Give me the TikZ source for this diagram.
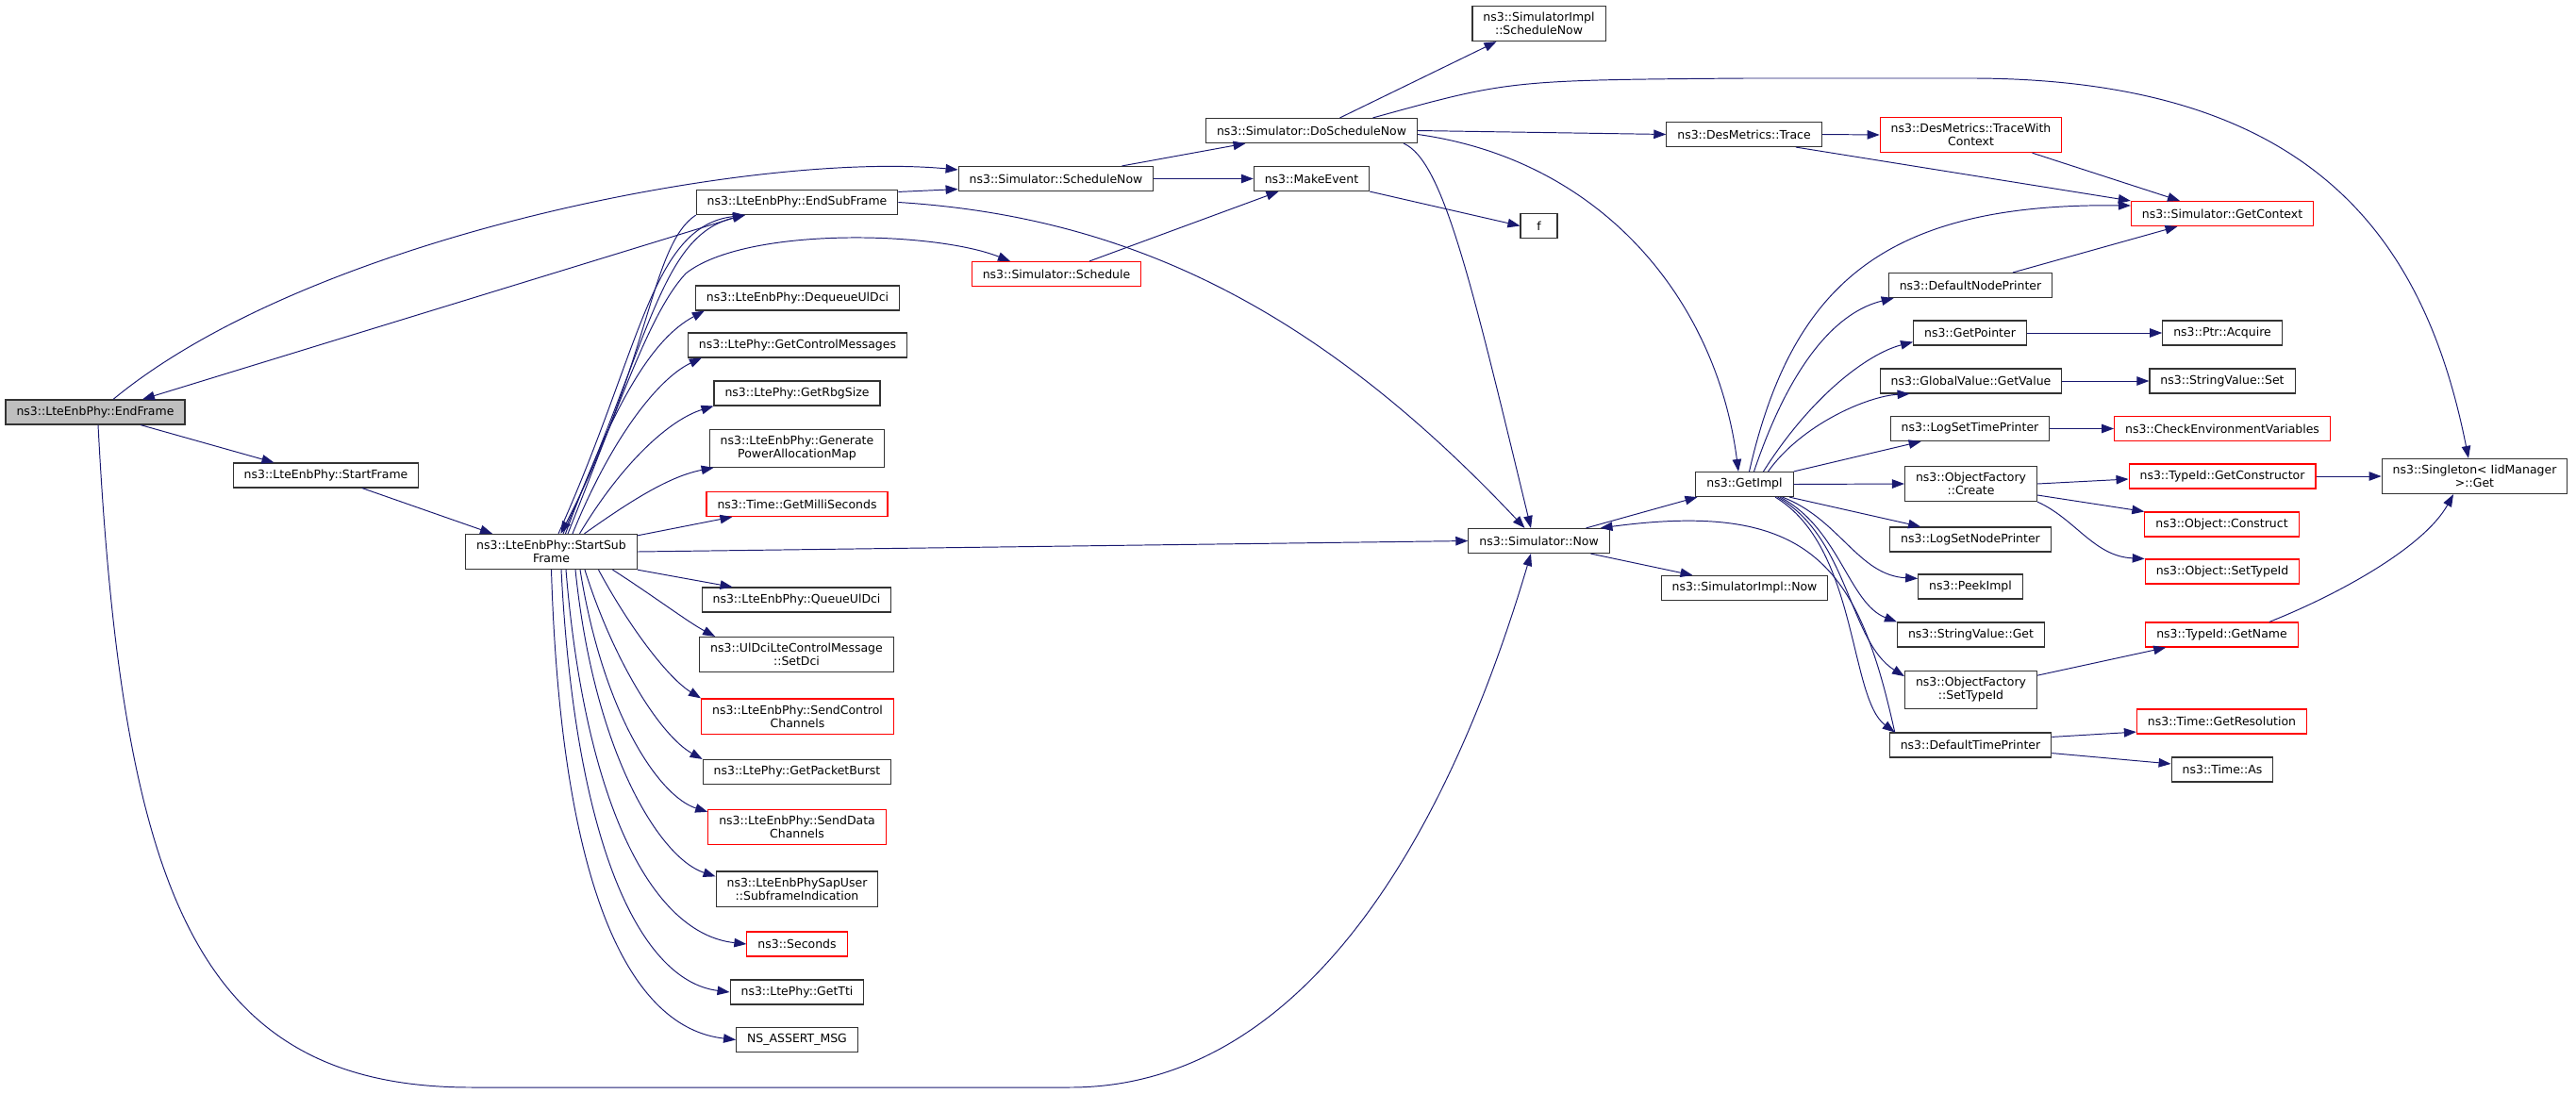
\documentclass[tikz,border=0pt]{standalone}
\usepackage{fontspec}
\setmainfont{DejaVu Sans}
\usepackage{tikz}
\usetikzlibrary{arrows.meta,positioning,calc}
\definecolor{callblue}{HTML}{191970}
\definecolor{boxgray}{HTML}{BFBFBF}
\definecolor{boxline}{HTML}{333333}

\begin{document}
\begin{tikzpicture}[
  >={Triangle[length=0.26cm,width=0.19cm]},
  fn/.style={draw=boxline, line width=0.65pt, fill=white, inner xsep=0.23cm, inner ysep=0.135cm,
             minimum height=0.52cm, align=center, font=\fontsize{7.1}{7.97}\selectfont},
  root/.style={fn, fill=boxgray},
  trunc/.style={fn, draw=red},
  call/.style={->, draw=callblue, line width=0.55pt},
]
\useasboundingbox (0,0) rectangle (54.62,-23.18);

% Column 1: root and frame start
\node[root] (endframe) at (2.02,-8.74) {ns3::LteEnbPhy::EndFrame};
\node[fn] (startframe) at (6.91,-10.08) {ns3::LteEnbPhy::StartFrame};
\node[fn] (startsub) at (11.69,-11.70) {ns3::LteEnbPhy::StartSub\\Frame};

% Column 2: callees of StartSubFrame
\node[fn] (endsub) at (16.90,-4.29) {ns3::LteEnbPhy::EndSubFrame};
\node[fn] (dequeue) at (16.91,-6.32) {ns3::LteEnbPhy::DequeueUlDci};
\node[fn] (getctrl) at (16.91,-7.32) {ns3::LtePhy::GetControlMessages};
\node[fn] (getrbg) at (16.90,-8.34) {ns3::LtePhy::GetRbgSize};
\node[fn] (genpower) at (16.90,-9.51) {ns3::LteEnbPhy::Generate\\PowerAllocationMap};
\node[trunc] (millisec) at (16.90,-10.69) {ns3::Time::GetMilliSeconds};
\node[fn] (queue) at (16.89,-12.72) {ns3::LteEnbPhy::QueueUlDci};
\node[fn] (setdci) at (16.89,-13.88) {ns3::UlDciLteControlMessage\\::SetDci};
\node[trunc] (sendctrl) at (16.91,-15.19) {ns3::LteEnbPhy::SendControl\\Channels};
\node[fn] (pktburst) at (16.90,-16.37) {ns3::LtePhy::GetPacketBurst};
\node[trunc] (senddata) at (16.90,-17.54) {ns3::LteEnbPhy::SendData\\Channels};
\node[fn] (subframe) at (16.90,-18.85) {ns3::LteEnbPhySapUser\\::SubframeIndication};
\node[trunc] (seconds) at (16.90,-20.02) {ns3::Seconds};
\node[fn] (gettti) at (16.90,-21.04) {ns3::LtePhy::GetTti};
\node[fn] (nsassert) at (16.90,-22.05) {NS\_ASSERT\_MSG};

% Column 3: scheduling entry points
\node[fn] (schednow) at (22.39,-3.79) {ns3::Simulator::ScheduleNow};
\node[trunc] (schedule) at (22.40,-5.81) {ns3::Simulator::Schedule};

% Column 4
\node[fn] (doschednow) at (27.81,-2.77) {ns3::Simulator::DoScheduleNow};
\node[fn] (makeevent) at (27.81,-3.79) {ns3::MakeEvent};

% Column 5
\node[fn] (implschednow) at (32.63,-0.50) {ns3::SimulatorImpl\\::ScheduleNow};
\node[fn, minimum width=0.78cm] (f) at (32.63,-4.79) {f};
\node[fn] (simnow) at (32.63,-11.47) {ns3::Simulator::Now};

% Column 6
\node[fn] (trace) at (36.98,-2.85) {ns3::DesMetrics::Trace};
\node[fn] (getimpl) at (36.99,-10.27) {ns3::GetImpl};
\node[fn] (implnow) at (36.99,-12.47) {ns3::SimulatorImpl::Now};

% Column 7: callees of GetImpl
\node[trunc] (tracectx) at (41.79,-2.86) {ns3::DesMetrics::TraceWith\\Context};
\node[fn] (nodeprinter) at (41.78,-6.05) {ns3::DefaultNodePrinter};
\node[fn] (getpointer) at (41.77,-7.06) {ns3::GetPointer};
\node[fn] (getvalue) at (41.79,-8.08) {ns3::GlobalValue::GetValue};
\node[fn] (settimeprinter) at (41.77,-9.09) {ns3::LogSetTimePrinter};
\node[fn] (ofcreate) at (41.79,-10.26) {ns3::ObjectFactory\\::Create};
\node[fn] (setnodeprinter) at (41.78,-11.44) {ns3::LogSetNodePrinter};
\node[fn] (peekimpl) at (41.78,-12.44) {ns3::PeekImpl};
\node[fn] (strget) at (41.79,-13.46) {ns3::StringValue::Get};
\node[fn] (ofsettypeid) at (41.79,-14.63) {ns3::ObjectFactory\\::SetTypeId};
\node[fn] (timeprinter) at (41.78,-15.80) {ns3::DefaultTimePrinter};

% Column 8
\node[trunc] (getcontext) at (47.12,-4.53) {ns3::Simulator::GetContext};
\node[fn] (acquire) at (47.12,-7.06) {ns3::Ptr::Acquire};
\node[fn] (strset) at (47.12,-8.08) {ns3::StringValue::Set};
\node[trunc] (checkenv) at (47.12,-9.09) {ns3::CheckEnvironmentVariables};
\node[trunc] (getctor) at (47.12,-10.10) {ns3::TypeId::GetConstructor};
\node[trunc] (construct) at (47.11,-11.12) {ns3::Object::Construct};
\node[trunc] (objsettypeid) at (47.12,-12.12) {ns3::Object::SetTypeId};
\node[trunc] (getname) at (47.11,-13.46) {ns3::TypeId::GetName};
\node[trunc] (resolution) at (47.11,-15.30) {ns3::Time::GetResolution};
\node[fn] (timeas) at (47.12,-16.32) {ns3::Time::As};

% Column 9
\node[fn] (singleton) at (52.47,-10.10) {ns3::Singleton< IidManager\\>::Get};

% Calls: EndFrame
\draw[call] ([xshift=0.38cm]endframe.north) .. controls (6.6,-5.0) and (16.0,-3.2) .. ([yshift=0.19cm]schednow.west);
\draw[call] ([xshift=0.96cm]endframe.south) -- ([xshift=-1.1cm]startframe.north);
\draw[call] ([xshift=0.77cm]startframe.south) -- ([xshift=-1.25cm]startsub.north);
\draw[call] ([xshift=0.06cm]endframe.south) .. controls (2.6,-19.0) and (4.2,-23.06) .. (10.0,-23.06)
  -- (22.68,-23.06) .. controls (28.4,-23.06) and (31.2,-16.0) .. ([xshift=-0.17cm]simnow.south);

% Calls: EndSubFrame
\draw[call] ([xshift=1.0cm]endsub.south west) -- ([xshift=1.0cm]endframe.north);
\draw[call] (endsub.south west) .. controls (13.8,-5.2) and (13.8,-7.6) .. ([xshift=0.2cm]startsub.north);
\draw[call] ([yshift=-0.05cm]endsub.north east) -- ([yshift=0.05cm]schednow.south west);
\draw[call] (endsub.east) .. controls (24.0,-4.6) and (28.0,-6.6) .. ([xshift=-0.3cm]simnow.north);

% Calls: StartSubFrame, upper fan
\draw[call] ([xshift=0.25cm]startsub.north) .. controls (13.8,-7.2) and (14.0,-5.0) .. ([xshift=-1.1cm]endsub.south);
\draw[call] ([xshift=0.15cm]startsub.north) .. controls (13.6,-7.4) and (13.8,-4.8) .. ([xshift=-1.1cm]endsub.south);
\draw[call] ([xshift=0.35cm]startsub.north) .. controls (13.2,-8.4) and (13.8,-6.6) .. (14.54,-5.8)
  .. controls (15.8,-4.8) and (19.8,-4.9) .. ([xshift=-0.98cm]schedule.north);
\draw[call] ([xshift=0.3cm]startsub.north) .. controls (13.0,-8.6) and (13.8,-7.2) .. ([xshift=0.2cm]dequeue.south west);
\draw[call] ([xshift=0.45cm]startsub.north) .. controls (13.0,-9.2) and (14.0,-8.0) .. ([xshift=0.3cm]getctrl.south west);
\draw[call] ([xshift=0.6cm]startsub.north) .. controls (13.2,-9.8) and (14.2,-8.9) .. (getrbg.south west);
\draw[call] ([xshift=0.7cm]startsub.north) .. controls (13.4,-10.6) and (14.2,-10.1) .. ([xshift=0.1cm]genpower.south west);
\draw[call] ([yshift=-0.04cm]startsub.north east) -- ([xshift=0.56cm]millisec.south west);
\draw[call] (startsub.east) -- (simnow.west);

% Calls: StartSubFrame, lower fan
\draw[call] (startsub.south east) -- ([xshift=0.66cm]queue.north west);
\draw[call] ([xshift=1.3cm]startsub.south) .. controls (13.8,-12.6) and (14.6,-13.2) .. ([xshift=0.34cm]setdci.north west);
\draw[call] ([xshift=1.0cm]startsub.south) .. controls (13.4,-13.4) and (14.2,-14.4) .. (sendctrl.north west);
\draw[call] ([xshift=0.71cm]startsub.south) .. controls (13.0,-14.0) and (14.0,-15.6) .. (pktburst.north west);
\draw[call] ([xshift=0.61cm]startsub.south) .. controls (12.8,-15.2) and (14.0,-16.9) .. ([yshift=-0.06cm]senddata.north west);
\draw[call] ([xshift=0.51cm]startsub.south) .. controls (12.6,-16.0) and (14.0,-18.2) .. ([yshift=-0.12cm]subframe.north west);
\draw[call] ([xshift=0.31cm]startsub.south) .. controls (12.4,-17.0) and (13.8,-19.8) .. (seconds.west);
\draw[call] ([xshift=0.21cm]startsub.south) .. controls (12.2,-18.0) and (13.6,-20.8) .. (gettti.west);
\draw[call] (startsub.south) .. controls (11.9,-19.0) and (13.4,-21.8) .. (nsassert.west);

% Calls: scheduling
\draw[call] ([xshift=1.4cm]schednow.north) -- ([xshift=-1.4cm]doschednow.south);
\draw[call] (schednow.east) -- (makeevent.west);
\draw[call] ([xshift=0.7cm]schedule.north) -- ([xshift=-0.7cm]makeevent.south);
\draw[call] (makeevent.south east) -- (f.west);
\draw[call] ([xshift=0.6cm]doschednow.north) -- ([xshift=-0.9cm]implschednow.south);
\draw[call] ([xshift=1.3cm]doschednow.north) .. controls (32.0,-1.7) .. (37.0,-1.66) -- (41.88,-1.66)
  .. controls (49.0,-1.7) and (51.4,-5.0) .. ([xshift=-0.13cm]singleton.north);
\draw[call] (doschednow.east) -- (trace.west);
\draw[call] ([yshift=-0.08cm]doschednow.east) .. controls (34.0,-3.4) and (36.4,-6.4) .. ([xshift=-0.13cm]getimpl.north);
\draw[call] ([xshift=1.95cm]doschednow.south) .. controls (30.6,-3.4) and (31.2,-6.0) .. ([xshift=-0.17cm]simnow.north);

% Calls: Simulator::Now
\draw[call] ([xshift=1.0cm]simnow.north) -- ([xshift=-1.0cm]getimpl.south);
\draw[call] ([xshift=1.1cm]simnow.south) -- ([xshift=-1.1cm]implnow.north);
\draw[call] ([xshift=0.12cm]timeprinter.north west) .. controls (39.4,-12.0) and (38.4,-10.6) .. ([xshift=1.3cm]simnow.north);

% Calls: DesMetrics
\draw[call] (trace.east) -- (tracectx.west);
\draw[call] ([xshift=1.1cm]trace.south) -- (getcontext.north west);
\draw[call] ([xshift=1.3cm]tracectx.south) -- ([xshift=-0.9cm]getcontext.north);

% Calls: GetImpl
\draw[call] ([xshift=0.1cm]getimpl.north) .. controls (38.0,-6.0) and (40.0,-4.3) .. ([yshift=0.17cm]getcontext.west);
\draw[call] ([xshift=0.2cm]getimpl.north) .. controls (38.0,-7.6) and (39.0,-6.6) .. ([xshift=0.12cm]nodeprinter.south west);
\draw[call] ([xshift=0.4cm]getimpl.north) .. controls (38.4,-8.4) and (39.6,-7.5) .. ([yshift=0.08cm]getpointer.south west);
\draw[call] ([xshift=0.5cm]getimpl.north) .. controls (38.2,-9.0) and (39.6,-8.4) .. ([xshift=0.64cm]getvalue.south west);
\draw[call] (getimpl.north east) -- ([xshift=0.66cm]settimeprinter.south west);
\draw[call] (getimpl.east) -- (ofcreate.west);
\draw[call] ([xshift=0.95cm]getimpl.south) -- ([xshift=0.66cm]setnodeprinter.north west);
\draw[call] ([xshift=0.8cm]getimpl.south) .. controls (39.0,-11.0) and (39.4,-12.2) .. ([yshift=-0.1cm]peekimpl.north west);
\draw[call] ([xshift=0.75cm]getimpl.south) .. controls (39.0,-11.2) and (39.2,-12.8) .. (strget.north west);
\draw[call] ([xshift=0.7cm]getimpl.south) .. controls (39.2,-11.4) and (39.2,-13.6) .. ([yshift=-0.12cm]ofsettypeid.north west);
\draw[call] ([xshift=0.65cm]getimpl.south) .. controls (39.4,-11.6) and (39.2,-14.8) .. ([xshift=0.12cm]timeprinter.north west);

% Calls: right-hand columns
\draw[call] ([xshift=0.9cm]nodeprinter.north) -- ([xshift=-0.95cm]getcontext.south);
\draw[call] (getpointer.east) -- (acquire.west);
\draw[call] (getvalue.east) -- (strset.west);
\draw[call] (settimeprinter.east) -- (checkenv.west);
\draw[call] (ofcreate.east) -- ([yshift=-0.06cm]getctor.west);
\draw[call] (getctor.east) -- (singleton.west);
\draw[call] ([yshift=-0.24cm]ofcreate.east) -- (construct.north west);
\draw[call] (ofcreate.south east) .. controls (44.0,-11.0) and (44.4,-11.8) .. (objsettypeid.north west);
\draw[call] ([yshift=-0.1cm]ofsettypeid.north east) -- ([xshift=0.44cm]getname.south west);
\draw[call] ([xshift=-0.62cm]getname.north east) .. controls (49.6,-12.6) and (51.4,-11.6) .. ([xshift=-0.45cm]singleton.south);
\draw[call] ([yshift=-0.1cm]timeprinter.north east) -- ([yshift=0.05cm]resolution.south west);
\draw[call] ([yshift=0.1cm]timeprinter.south east) -- ([yshift=-0.15cm]timeas.north west);
\end{tikzpicture}
\end{document}
